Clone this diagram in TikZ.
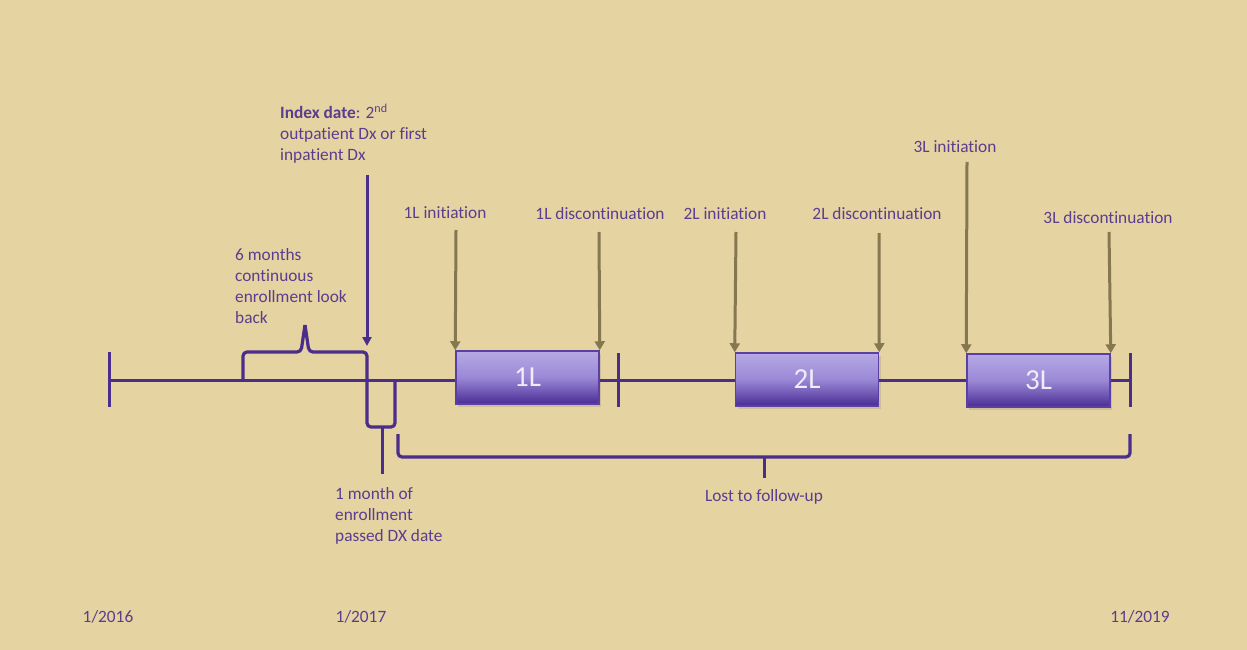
\documentclass[tikz,border=0pt]{standalone}
\usepackage{fontspec}
\setmainfont{Carlito}[Ligatures=NoCommon]
\usetikzlibrary{arrows.meta,shadows}
\definecolor{bg}{HTML}{E6D3A2}
\definecolor{pline}{HTML}{4B2D8C}
\definecolor{ptext}{HTML}{5A3D8E}
\definecolor{olivec}{HTML}{857850}
\definecolor{boxtop}{HTML}{B6A9E4}
\definecolor{boxmid}{HTML}{9A88D6}
\definecolor{boxbot}{HTML}{4A2C95}
\definecolor{boxedge}{HTML}{5B3FA3}
\definecolor{boxtext}{HTML}{EFEDF7}
\begin{document}
\begin{tikzpicture}[x=1pt,y=-1pt,
  lbl/.style={text=ptext,font=\fontsize{17.3}{21}\selectfont,inner sep=0pt},
  ml/.style={lbl,align=left,anchor=north west},
  tl/.style={draw=pline,line width=3pt},
  brk/.style={draw=pline,line width=3.2pt,rounded corners=4pt},
  oarrow/.style={draw=olivec,line width=3pt,-{Triangle[width=10pt,length=9pt]}},
  parrow/.style={draw=pline,line width=3pt,-{Triangle[width=9pt,length=9pt]}},
  tbox/.style={draw=boxedge,line width=1.5pt,minimum width=143pt,minimum height=53pt,inner sep=0pt,
    top color=boxtop,bottom color=boxbot,middle color=boxmid,text=boxtext,
    font=\fontsize{29}{34}\selectfont,
    drop shadow={opacity=0.25,shadow xshift=2pt,shadow yshift=-3pt}}]
\fill[bg] (0,0) rectangle (1247,650);
\useasboundingbox (0,0) rectangle (1247,650);

% boxes
\node[tbox] (b1) at (527.5,377.5) {1L};
\node[tbox] (b2) at (807,379.5) {2L};
\node[tbox] (b3) at (1038.5,380.5) {3L};

% ticks
\coordinate (tk1a) at (109,352); \coordinate (tk1b) at (109,407);
\coordinate (tk2a) at (618,353); \coordinate (tk2b) at (618,407);
\coordinate (tk3a) at (1130,353); \coordinate (tk3b) at (1130,407);
\coordinate (tlstart) at (109,380);
\coordinate (tlend) at (1130,380);
\draw[tl] (tk1a) -- (tk1b);
\draw[tl] (tk2a) -- (tk2b);
\draw[tl] (tk3a) -- (tk3b);
\draw[tl] (tlstart) -- (b1.west |- 0,380);
\draw[tl] (b1.east |- 0,380) -- (b2.west |- 0,380);
\draw[tl] (b2.east |- 0,380) -- (b3.west |- 0,380);
\draw[tl] (b3.east |- 0,380) -- (tlend);

% 6 months brace
\draw[brk] (243,380) -- (243,352) -- (301,352) -- (305,325);
\draw[brk] (305,325) -- (309,352) -- (367,352) -- (367,427) -- (395,427) -- (395,380);
% 1 month tip
\draw[draw=pline,line width=3pt] (382,427) -- (382,474);
% lost to follow-up bracket
\draw[brk] (398,434) -- (398,457) -- (1130,457) -- (1130,434);
\draw[draw=pline,line width=3pt] (764,457) -- (764,478);

% index arrow
\coordinate (ia) at (367,175);
\coordinate (ib) at (367,346);
\draw[parrow] (ia) -- (ib);

% olive arrows
\coordinate (o1) at (456,230);
\coordinate (o2) at (599,232);
\coordinate (o3) at (736,232);
\coordinate (o4) at (879,233);
\coordinate (o5) at (967,162);
\coordinate (o6) at (1109,232);
\draw[oarrow] (o1) -- (b1.north west);
\draw[oarrow] (o2) -- (b1.north east);
\draw[oarrow] (o3) -- (b2.north west);
\draw[oarrow] (o4) -- (b2.north east);
\draw[oarrow] (o5) -- (b3.north west);
\draw[oarrow] (o6) -- (b3.north east);

% labels
\node[lbl,anchor=base] (l1) at (445,218) {1L initiation};
\node[lbl,anchor=base] (l2) at (600,219) {1L discontinuation};
\node[lbl,anchor=base] (l3) at (725,219) {2L initiation};
\node[lbl,anchor=base] (l4) at (877,219) {2L discontinuation};
\node[lbl,anchor=base] (l5) at (955,153) {3L initiation};
\node[lbl,anchor=base] (l6) at (1108,223) {3L discontinuation};

\node[ml] (idx) at (280,104) {\textbf{Index date}: 2\textsuperscript{nd}\\outpatient Dx or first\\inpatient Dx};
\node[ml] (six) at (235,248) {6 months\\continuous\\enrollment look\\back};
\node[ml] (one) at (335,487) {1 month of\\enrollment\\passed DX date};
\node[lbl,anchor=base] (lost) at (764,501) {Lost to follow-up};

\node[lbl,anchor=base] (d1) at (108,622) {1/2016};
\node[lbl,anchor=base] (d2) at (361,622) {1/2017};
\node[lbl,anchor=base] (d3) at (1140,622) {11/2019};
\end{tikzpicture}
\end{document}
